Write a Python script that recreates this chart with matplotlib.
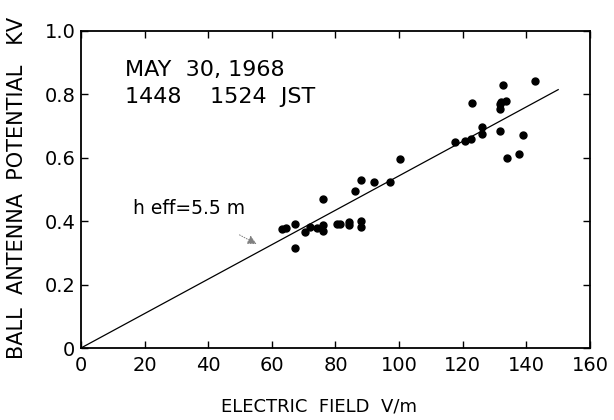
import numpy as np
import matplotlib.pyplot as plt

# campo eléctrico (V/m) y potencial de la antena (kV)
campo = [142.7, 132.8, 123.0, 133.5, 132.1, 131.6, 131.6, 126.1, 126.1, 131.6,
         139.0, 117.7, 120.8, 122.7, 137.7, 133.8, 100.4, 88.0, 92.1, 97.1,
         86.1, 76.1, 67.2, 63.2, 64.3, 70.5, 67.2, 72.1, 74.3, 76.1,
         76.1, 80.4, 81.5, 84.1, 84.1, 88.0, 88.0]
potencial = [0.843, 0.830, 0.772, 0.779, 0.775, 0.769, 0.753, 0.697, 0.674, 0.685,
             0.671, 0.651, 0.653, 0.660, 0.611, 0.599, 0.597, 0.530, 0.525, 0.525,
             0.495, 0.471, 0.391, 0.375, 0.377, 0.366, 0.315, 0.382, 0.378, 0.387,
             0.368, 0.391, 0.392, 0.399, 0.389, 0.402, 0.383]

# recta h eff = 5.5 m
recta_x = [0, 150]
recta_y = [0, 0.815]

xticks = [0, 20, 40, 60, 80, 100, 120, 140, 160]
yticks = [0, 0.2, 0.4, 0.6, 0.8, 1.0]
yticklabels = ['0', '0.2', '0.4', '0.6', '0.8', '1.0']

fig = plt.figure(figsize=(6.14, 4.2), dpi=100)
ax = fig.add_axes([0.1319, 0.1714, 0.829, 0.7548])

ax.plot(recta_x, recta_y, color='black', lw=0.9)
ax.plot(campo, potencial, 'o', color='black', markersize=5)

ax.set_xlim(0, 160)
ax.set_ylim(0, 1.0)
ax.set_xticks(xticks)
ax.set_yticks(yticks)
ax.set_yticklabels(yticklabels)
ax.tick_params(direction='in', length=5, width=1, labelsize=14,
               top=True, right=True)
ax.tick_params(axis='x', pad=6)
ax.tick_params(axis='y', pad=4)
for s in ax.spines.values():
    s.set_linewidth(1.3)

ax.set_xlabel('ELECTRIC  FIELD  V/m', fontsize=13, va='center')
ax.xaxis.set_label_coords(0.468, -0.186)
ax.set_ylabel('BALL  ANTENNA  POTENTIAL   KV', fontsize=15, va='center')
ax.yaxis.set_label_coords(-0.126, 0.505)

ax.text(13.7, 0.877, 'MAY  30, 1968', fontsize=16, va='center')
ax.text(13.7, 0.793, '1448    1524  JST', fontsize=16, va='center')

ax.annotate('h eff=5.5 m', xy=(55.2, 0.328), xytext=(16.5, 0.441),
            fontsize=13.5, va='center',
            arrowprops=dict(arrowstyle='-|>', color='gray', lw=0.7,
                            linestyle=':', shrinkA=22, shrinkB=0))

fig.savefig('out.png', dpi=100)
